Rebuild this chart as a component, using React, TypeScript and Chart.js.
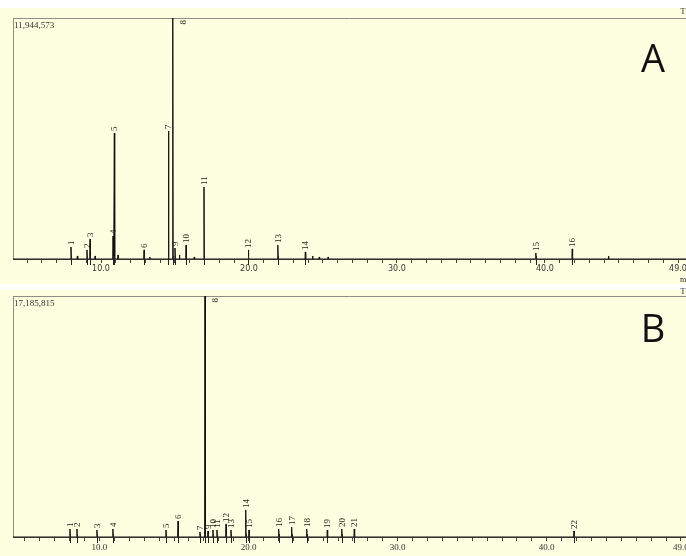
import React, { useEffect, useRef } from 'react';
import { Chart, registerables } from 'chart.js';

Chart.register(...registerables);

// ---------- data ----------
const FULL_SCALE_A = 11944573;
const FULL_SCALE_B = 17185815;

const PEAK_RT_A = [7.97, 9.05, 9.26, 10.81, 10.9, 12.91, 14.56, 14.85, 15.0, 15.75, 16.96, 19.96, 21.95, 23.81, 39.39, 41.85];
const PEAK_H_A = [595000, 450000, 990000, 1140000, 6245000, 450000, 6344000, 11944573, 545000, 694000, 3568000, 450000, 694000, 350000, 300000, 500000];
const PEAK_LABELS_A = ['1', '2', '3', '4', '5', '6', '7', '8', '9', '10', '11', '12', '13', '14', '15', '16'];
const MINOR_RT_A = [8.4, 9.6, 11.15, 13.3, 15.3, 16.3, 24.3, 24.75, 25.35, 44.3];
const MINOR_H_A = [150000, 150000, 200000, 100000, 200000, 100000, 150000, 100000, 100000, 150000];

const PEAK_RT_B = [8.02, 8.49, 9.83, 10.9, 14.46, 15.27, 16.74, 17.08, 17.28, 17.61, 17.88, 18.49, 18.82, 19.81, 20.03, 22.02, 22.89, 23.9, 25.28, 26.25, 27.09, 41.83];
const PEAK_H_B = [570000, 570000, 500000, 570000, 500000, 1140000, 357000, 17185815, 428000, 500000, 500000, 930000, 500000, 1925000, 500000, 570000, 713000, 570000, 500000, 570000, 570000, 428000];
const PEAK_LABELS_B = ['1', '2', '3', '4', '5', '6', '7', '8', '9', '10', '11', '12', '13', '14', '15', '16', '17', '18', '19', '20', '21', '22'];
const MINOR_RT_B: number[] = [];
const MINOR_H_B: number[] = [];

const LABELLED_TICKS = [10, 20, 30, 40, 49];
const TICK_START = 5;
const TICK_END = 49;

// ---------- helpers ----------
const BG = '#fefee0';
const PEAK_HALF_WIDTH = 0.025;

function buildTrace(rts: number[], hs: number[], mrts: number[], mhs: number[], xMin: number, xMax: number) {
  const peaks = rts.map((r, i) => ({ r, h: hs[i] })).concat(mrts.map((r, i) => ({ r, h: mhs[i] })));
  peaks.sort((a, b) => a.r - b.r);
  const pts: { x: number; y: number }[] = [{ x: xMin, y: 0 }];
  peaks.forEach((p) => {
    pts.push({ x: p.r - PEAK_HALF_WIDTH, y: 0 });
    pts.push({ x: p.r, y: p.h });
    pts.push({ x: p.r + PEAK_HALF_WIDTH, y: 0 });
  });
  pts.push({ x: xMax, y: 0 });
  return pts;
}

type PanelCfg = {
  id: string;
  height: number;
  bandTop: number;
  padTop: number;
  axisHeight: number;
  xMin: number;
  xMax: number;
  fullScale: number;
  fullScaleText: string;
  rts: number[];
  hs: number[];
  labels: string[];
  mrts: number[];
  mhs: number[];
  letter: string;
  letterBaseline: number;
  tickFont: string;
  tickSize: number;
  extraTexts: { t: string; x: number; y: number }[];
};

function makeConfig(p: PanelCfg): any {
  const data = buildTrace(p.rts, p.hs, p.mrts, p.mhs, p.xMin, p.xMax);
  const decor = {
    id: 'decor' + p.id,
    beforeDraw(chart: any) {
      const { ctx, width, height } = chart;
      ctx.save();
      ctx.fillStyle = '#ffffff';
      ctx.fillRect(0, 0, width, height);
      ctx.fillStyle = BG;
      ctx.fillRect(0, p.bandTop, width, height - p.bandTop);
      ctx.restore();
    },
    beforeDatasetsDraw(chart: any) {
      const { ctx, chartArea: ca, width } = chart;
      ctx.save();
      ctx.strokeStyle = '#8e8e84';
      ctx.lineWidth = 1;
      ctx.beginPath();
      ctx.moveTo(ca.left, Math.round(ca.top) + 0.5);
      ctx.lineTo(width, Math.round(ca.top) + 0.5);
      ctx.moveTo(Math.round(ca.left) + 0.5, ca.top);
      ctx.lineTo(Math.round(ca.left) + 0.5, ca.bottom);
      ctx.stroke();
      // full scale text
      ctx.fillStyle = '#333';
      ctx.font = '9px "Liberation Serif"';
      ctx.textBaseline = 'top';
      ctx.textAlign = 'left';
      ctx.fillText(p.fullScaleText, ca.left + 1, ca.top + 3);
      // panel letter
      ctx.fillStyle = '#111';
      ctx.font = '38px "Open Sans"';
      ctx.textAlign = 'center';
      ctx.textBaseline = 'alphabetic';
      ctx.fillText(p.letter, 653, p.letterBaseline);
      // stray header/footer texts
      ctx.font = '8px "Liberation Serif"';
      ctx.fillStyle = '#222';
      p.extraTexts.forEach((e) => ctx.fillText(e.t, e.x, e.y));
      ctx.restore();
    },
    afterDatasetsDraw(chart: any) {
      const { ctx, chartArea: ca, scales } = chart;
      const xs = scales.x;
      const ys = scales.y;
      ctx.save();
      ctx.strokeStyle = '#222';
      ctx.fillStyle = '#222';
      ctx.lineWidth = 1;
      ctx.font = '9px "Liberation Serif"';
      p.rts.forEach((r, i) => {
        const px = Math.round(xs.getPixelForValue(r)) + 0.5;
        const py = ys.getPixelForValue(p.hs[i]);
        // integration marker below baseline
        ctx.beginPath();
        ctx.moveTo(px, ca.bottom - 3);
        ctx.lineTo(px, ca.bottom + 6);
        ctx.stroke();
        const label = p.labels[i];
        const w = ctx.measureText(label).width;
        ctx.save();
        ctx.textBaseline = 'middle';
        if (py - w - 3 < ca.top) {
          ctx.translate(px + 10, ca.top + 2);
          ctx.rotate(-Math.PI / 2);
          ctx.textAlign = 'right';
        } else {
          ctx.translate(px, py - 2);
          ctx.rotate(-Math.PI / 2);
          ctx.textAlign = 'left';
        }
        ctx.fillText(label, 0, 0);
        ctx.restore();
      });
      ctx.restore();
    },
  };

  return {
    type: 'line',
    data: {
      datasets: [
        {
          data,
          borderColor: '#111',
          borderWidth: 1,
          pointRadius: 0,
          tension: 0,
          fill: false,
        },
      ],
    },
    options: {
      animation: false,
      responsive: false,
      maintainAspectRatio: false,
      layout: { padding: { top: p.padTop, left: 13, right: 0, bottom: 0 } },
      plugins: { legend: { display: false }, tooltip: { enabled: false } },
      scales: {
        x: {
          type: 'linear',
          min: p.xMin,
          max: p.xMax,
          afterBuildTicks(scale: any) {
            const t: { value: number }[] = [];
            for (let v = TICK_START; v <= TICK_END; v += 1) t.push({ value: v });
            scale.ticks = t;
          },
          afterFit(scale: any) {
            scale.height = p.axisHeight;
            scale.paddingLeft = 0;
            scale.paddingRight = 0;
          },
          ticks: {
            autoSkip: false,
            maxRotation: 0,
            minRotation: 0,
            padding: 1,
            color: '#333',
            font: { family: p.tickFont, size: p.tickSize },
            callback: (v: number) => (LABELLED_TICKS.includes(v) ? v.toFixed(1) : ''),
          },
          grid: { drawOnChartArea: false, drawTicks: true, tickLength: 4, color: '#444' },
          border: { display: true, color: '#333', width: 1 },
        },
        y: { display: false, min: 0, max: p.fullScale },
      },
    },
    plugins: [decor],
  };
}

function Panel({ cfg }: { cfg: PanelCfg }) {
  const ref = useRef<HTMLCanvasElement | null>(null);
  useEffect(() => {
    if (!ref.current) return;
    const chart = new Chart(ref.current, makeConfig(cfg));
    return () => chart.destroy();
  }, []);
  return <canvas ref={ref} width={686} height={cfg.height} style={{ display: 'block', width: 686, height: cfg.height }} />;
}

const PANEL_A: PanelCfg = {
  id: 'A',
  height: 284,
  bandTop: 8,
  padTop: 18,
  axisHeight: 25,
  xMin: 4.05,
  xMax: 49.54,
  fullScale: FULL_SCALE_A,
  fullScaleText: '11,944,573',
  rts: PEAK_RT_A,
  hs: PEAK_H_A,
  labels: PEAK_LABELS_A,
  mrts: MINOR_RT_A,
  mhs: MINOR_H_A,
  letter: 'A',
  letterBaseline: 72,
  tickFont: '"DejaVu Sans"',
  tickSize: 8,
  extraTexts: [
    { t: 'T', x: 683, y: 14 },
    { t: 'm', x: 683, y: 282 },
  ],
};

const PANEL_B: PanelCfg = {
  id: 'B',
  height: 272,
  bandTop: 6,
  padTop: 12,
  axisHeight: 19,
  xMin: 4.2,
  xMax: 49.34,
  fullScale: FULL_SCALE_B,
  fullScaleText: '17,185,815',
  rts: PEAK_RT_B,
  hs: PEAK_H_B,
  labels: PEAK_LABELS_B,
  mrts: MINOR_RT_B,
  mhs: MINOR_H_B,
  letter: 'B',
  letterBaseline: 58,
  tickFont: '"Liberation Serif"',
  tickSize: 9,
  extraTexts: [{ t: 'T', x: 683, y: 10 }],
};

export default function App() {
  return (
    <div style={{ position: 'absolute', left: 0, top: 0, width: 686, height: 556, background: '#fff', overflow: 'hidden' }}>
      <Panel cfg={PANEL_A} />
      <Panel cfg={PANEL_B} />
    </div>
  );
}
